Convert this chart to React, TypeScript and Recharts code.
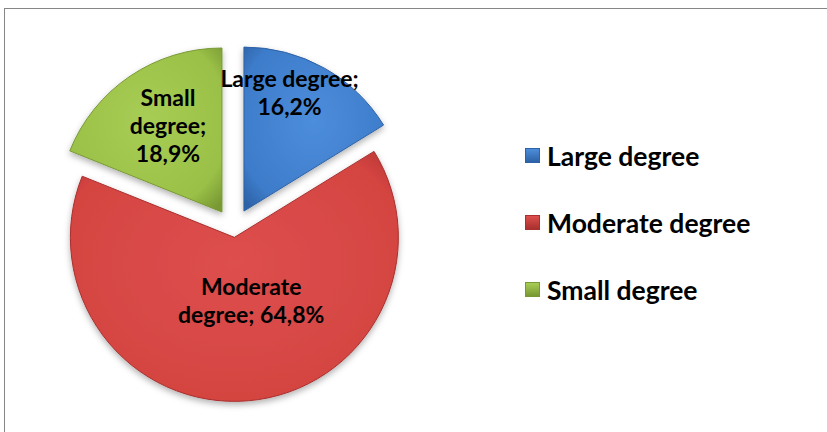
import React from "react";
import { PieChart, Pie, Cell, Legend } from "recharts";

const categories = ["Large degree", "Moderate degree", "Small degree"];
const shares = [16.2, 64.8, 18.9];
const shareLabels = ["16,2%", "64,8%", "18,9%"];
const labelLines = [
  ["Large degree;", "16,2%"],
  ["Moderate", "degree; 64,8%"],
  ["Small", "degree;", "18,9%"],
];

const colors = [
  { light: "#4d8ddb", main: "#3d7cca", dark: "#2d62a6" },
  { light: "#dd4f4d", main: "#d44441", dark: "#a8302e" },
  { light: "#a8cd55", main: "#9ac047", dark: "#789833" },
];
const explode = [21, 8, 21];
// radial position (fraction of radius) and angle shift for the inside labels
const labelPlace = [
  { r: 0.77, shift: 8 },
  { r: 0.4, shift: 10 },
  { r: 0.62, shift: -2 },
];

const data = categories.map((name, i) => ({ name, value: shares[i], label: shareLabels[i] }));

const RAD = Math.PI / 180;
const CX = 233.7;
const CY = 229.4;
const R = 164;
const total = shares.reduce((a, b) => a + b, 0);

function midAngleOf(i: number) {
  const before = shares.slice(0, i).reduce((a, b) => a + b, 0);
  return 90 - ((before + shares[i] / 2) / total) * 360;
}

function makeLabel(focus: number) {
  return (props: any) => {
    if (props.index !== focus) return null;
    const place = labelPlace[focus];
    const ang = (props.midAngle + place.shift) * RAD;
    const x = props.cx + props.outerRadius * place.r * Math.cos(ang);
    const y = props.cy - props.outerRadius * place.r * Math.sin(ang);
    const lines = labelLines[focus];
    const lh = 28;
    return (
      <text
        x={x}
        y={y}
        textAnchor="middle"
        fontFamily="Lato, sans-serif"
        fontWeight={700}
        fontSize={23}
        fill="#000"
      >
        {lines.map((t, k) => (
          <tspan key={k} x={x} dy={k === 0 ? -((lines.length - 1) / 2) * lh + 8 : lh}>
            {t}
          </tspan>
        ))}
      </text>
    );
  };
}

function LegendBox() {
  return (
    <div style={{ fontFamily: "Lato, sans-serif", fontWeight: 700, fontSize: 26.5, color: "#000" }}>
      {categories.map((c, i) => (
        <div key={c} style={{ display: "flex", alignItems: "center", height: 67 }}>
          <span
            style={{
              display: "inline-block",
              width: 15,
              height: 15,
              marginRight: 7,
              background: `linear-gradient(${colors[i].light}, ${colors[i].dark})`,
              border: `1px solid ${colors[i].dark}`,
              boxSizing: "border-box",
            }}
          />
          {c}
        </div>
      ))}
    </div>
  );
}

const order = [1, 0, 2];

export default function App() {
  return (
    <div style={{ position: "absolute", left: 0, top: 0, width: 827, height: 432, background: "#fff", overflow: "hidden" }}>
      <div
        style={{
          position: "absolute",
          left: 4,
          top: 8,
          width: 840,
          height: 440,
          borderLeft: "1.5px solid #868686",
          borderTop: "1.5px solid #868686",
        }}
      />
      <div style={{ position: "absolute", left: 0, top: 0 }}>
        <PieChart width={827} height={432} margin={{ top: 0, right: 0, bottom: 0, left: 0 }}>
          <defs>
            {colors.map((c, i) => (
              <radialGradient key={i} id={`grad${i}`} cx="0.5" cy="0.45" r="0.7">
                <stop offset="0%" stopColor={c.light} />
                <stop offset="78%" stopColor={c.main} />
                <stop offset="100%" stopColor={c.dark} />
              </radialGradient>
            ))}
            <filter id="shadow" x="-20%" y="-20%" width="140%" height="140%">
              <feDropShadow dx="0" dy="3" stdDeviation="3" floodColor="#000" floodOpacity="0.3" />
            </filter>
          </defs>
          {order.map((focus) => {
            const m = midAngleOf(focus) * RAD;
            return (
              <Pie
                key={focus}
                data={data}
                dataKey="value"
                nameKey="name"
                cx={CX + explode[focus] * Math.cos(m)}
                cy={CY - explode[focus] * Math.sin(m)}
                outerRadius={R}
                startAngle={90}
                endAngle={-270}
                isAnimationActive={false}
                labelLine={false}
                label={makeLabel(focus)}
                legendType="none"
              >
                {data.map((d, i) => (
                  <Cell
                    key={d.name}
                    fill={i === focus ? `url(#grad${i})` : "transparent"}
                    stroke={i === focus ? colors[i].dark : "none"}
                    strokeWidth={1}
                    style={i === focus ? { filter: "url(#shadow)" } : undefined}
                  />
                ))}
              </Pie>
            );
          })}
          <Legend
            layout="vertical"
            content={() => <LegendBox />}
            wrapperStyle={{ left: 525, top: 122, width: 290 }}
          />
        </PieChart>
      </div>
    </div>
  );
}
